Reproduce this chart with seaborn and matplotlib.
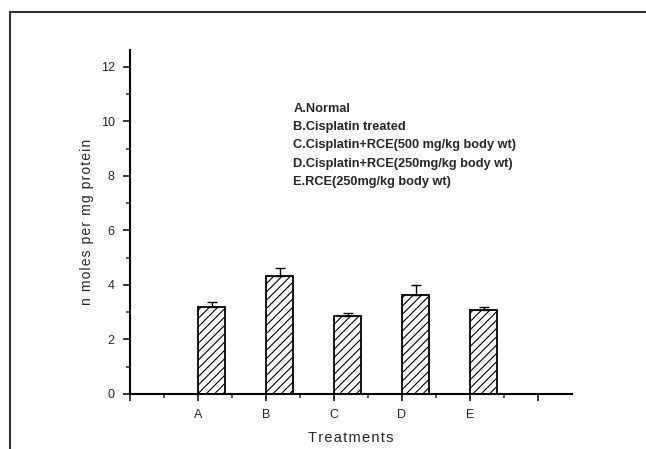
import numpy as np
import matplotlib
matplotlib.use("Agg")
import matplotlib.pyplot as plt
import seaborn as sns
from matplotlib.lines import Line2D

### data
groups = ["A", "B", "C", "D", "E"]
values = [3.19, 4.34, 2.86, 3.64, 3.08]
errors = [0.17, 0.27, 0.12, 0.37, 0.10]
legend_lines = ["A.Normal",
                "B.Cisplatin treated",
                "C.Cisplatin+RCE(500 mg/kg body wt)",
                "D.Cisplatin+RCE(250mg/kg body wt)",
                "E.RCE(250mg/kg body wt)"]

sns.set_style("white")
plt.rcParams['font.family'] = ['Liberation Sans', 'DejaVu Sans']
plt.rcParams['hatch.linewidth'] = 0.8

fig = plt.figure(figsize=(6.46, 4.49), dpi=100)
ax = fig.add_axes([130/646, 55/449, 442/646, 344/449])

pos = np.arange(1, len(groups) + 1)
# bars start at the tick and extend to the right
sns.barplot(x=pos + 0.2, y=values, native_scale=True, width=0.4,
            color="white", edgecolor="black", linewidth=1.3,
            hatch="////", ax=ax, errorbar=None)
ax.errorbar(pos + 0.2, values, yerr=[np.zeros(len(errors)), errors],
            fmt="none", ecolor="black", elinewidth=1.0, capsize=3.5, capthick=1.0)

ax.set_xlim(0, 6.5)
ax.set_ylim(0, 12.62)
ax.set_xticks(range(0, 7))
ax.set_xticklabels([""] + groups + [""])
ax.set_xticks(np.arange(0.5, 6.5, 1), minor=True)
ax.set_yticks(range(0, 13, 2))
ax.set_yticks(range(1, 13, 2), minor=True)

for side in ["top", "right"]:
    ax.spines[side].set_visible(False)
for side in ["left", "bottom"]:
    ax.spines[side].set_linewidth(1.5)
    ax.spines[side].set_color("black")

ax.tick_params(which="major", direction="out", length=5, width=1.3,
               labelsize=9, pad=6, bottom=True, left=True)
ax.tick_params(which="minor", direction="out", length=3, width=1.1,
               bottom=True, left=True)
ax.tick_params(axis="x", pad=6)

def spaced(s):
    # the original labels are letter-spaced
    return "\u200a".join(s)

ax.set_xlabel(spaced("Treatments"), fontsize=10.5, labelpad=7,
              family=['Liberation Sans', 'DejaVu Sans'])
ax.set_ylabel(spaced("n moles per mg protein"), fontsize=10, labelpad=5,
              family=['Liberation Sans', 'DejaVu Sans'])

ax.text(2.4, 10.68, "\n".join(legend_lines), fontsize=9.2, fontweight="bold",
        va="top", ha="left", linespacing=1.7)

# outer frame (only top and left visible in the crop)
fig.add_artist(Line2D([10/646, 10/646], [0, 1 - 11.5/449], transform=fig.transFigure,
                      color="#333333", lw=1.5))
fig.add_artist(Line2D([10/646, 1], [1 - 11.5/449, 1 - 11.5/449], transform=fig.transFigure,
                      color="#333333", lw=1.5))

plt.savefig("out.png", dpi=100)
